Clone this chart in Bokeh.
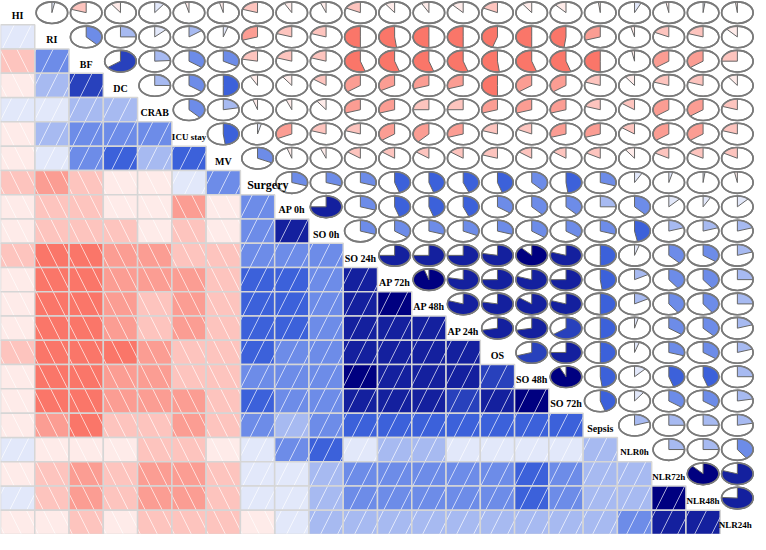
import numpy as np
from bokeh.plotting import figure
from bokeh.models import Range1d, ColumnDataSource
from bokeh.embed import file_html
from bokeh.resources import INLINE
from bokeh.core.properties import value

labels = ["HI", "RI", "BF", "DC", "CRAB", "ICU stay", "MV", "Surgery", "AP 0h", "SO 0h",
          "SO 24h", "AP 72h", "AP 48h", "AP 24h", "OS", "SO 48h", "SO 72h", "Sepsis",
          "NLR0h", "NLR72h", "NLR48h", "NLR24h"]

# upper-triangle correlations, row by row (columns to the right of the diagonal)
r_hi = [0.03, -0.2, -0.1, 0.1, -0.04, -0.04, -0.2, -0.08, -0.06, -0.18, -0.1, -0.08, -0.12,
        -0.18, -0.1, -0.12, -0.02, 0.07, -0.03, 0.02, -0.02]
r_ri = [0.38, 0.25, 0.13, 0.15, 0.05, -0.3, -0.2, -0.2, -0.5, -0.52, -0.5, -0.5, -0.45,
        -0.5, -0.48, -0.3, -0.04, -0.18, -0.2, -0.12]
r_bf = [0.65, 0.24, 0.35, 0.33, -0.22, -0.2, -0.2, -0.55, -0.55, -0.55, -0.55, -0.52,
        -0.55, -0.55, -0.5, -0.03, -0.35, -0.35, -0.25]
r_dc = [0.25, 0.35, 0.5, -0.08, -0.1, -0.15, -0.35, -0.33, -0.3, -0.3, -0.5, -0.35, -0.35,
        -0.2, -0.1, -0.2, -0.2, -0.1]
r_crab = [0.38, 0.22, -0.05, -0.06, -0.1, -0.3, -0.3, -0.25, -0.25, -0.3, -0.3, -0.3,
          -0.2, -0.15, -0.35, -0.35, -0.2]
r_icu = [0.48, 0.04, -0.32, -0.2, -0.2, -0.35, -0.38, -0.3, -0.2, -0.18, -0.3, -0.3,
         -0.15, -0.35, -0.35, -0.2]
r_mv = [0.32, -0.05, -0.06, -0.15, -0.15, -0.15, -0.15, -0.2, -0.15, -0.15, -0.17, -0.1,
        -0.17, -0.17, -0.17]
r_surgery = [0.3, 0.3, 0.3, 0.45, 0.45, 0.44, 0.45, 0.38, 0.48, 0.3, 0.08, 0.04, 0.02, -0.03]
r_ap0 = [0.75, 0.3, 0.45, 0.45, 0.44, 0.35, 0.38, 0.38, 0.25, 0.38, 0.12, 0.08, 0.12]
r_so0 = [0.3, 0.35, 0.3, 0.32, 0.3, 0.35, 0.35, 0.3, 0.47, 0.2, 0.2, 0.2]
r_so24 = [0.75, 0.75, 0.75, 0.78, 0.88, 0.8, 0.5, 0.05, 0.38, 0.35, 0.2]
r_ap72 = [0.95, 0.78, 0.75, 0.8, 0.75, 0.48, 0.17, 0.4, 0.4, 0.25]
r_ap48 = [0.8, 0.78, 0.85, 0.8, 0.5, 0.17, 0.4, 0.4, 0.25]
r_ap24 = [0.72, 0.72, 0.65, 0.5, 0.04, 0.35, 0.38, 0.2]
r_os = [0.7, 0.75, 0.5, 0.05, 0.3, 0.35, 0.2]
r_so48 = [0.93, 0.48, 0.12, 0.45, 0.45, 0.25]
r_so72 = [0.45, 0.1, 0.35, 0.35, 0.22]
r_sepsis = [0.2, 0.25, 0.25, 0.22]
r_nlr0 = [0.25, 0.25, 0.4]
r_nlr72 = [0.88, 0.8]
r_nlr48 = [0.76]

upper = [r_hi, r_ri, r_bf, r_dc, r_crab, r_icu, r_mv, r_surgery, r_ap0, r_so0, r_so24,
         r_ap72, r_ap48, r_ap24, r_os, r_so48, r_so72, r_sepsis, r_nlr0, r_nlr72, r_nlr48]

n = len(labels)
C = np.eye(n)
for i, row in enumerate(upper):
    for k, v in enumerate(row):
        j = i + 1 + k
        C[i, j] = v
        C[j, i] = v

# corrgram palette: red - salmon - white - royalblue - navy, 14 bins
anchors = np.array([(255, 0, 0), (250, 128, 114), (255, 255, 255), (65, 105, 225), (0, 0, 128)], float)
NCOL = 14
palette = []
for k in range(NCOL):
    t = k / (NCOL - 1) * (len(anchors) - 1)
    s = min(int(t), len(anchors) - 2)
    f = t - s
    c = anchors[s] * (1 - f) + anchors[s + 1] * f
    palette.append("#%02x%02x%02x" % tuple(int(round(v)) for v in c))


def col_of(r):
    idx = int(np.ceil((r + 1) / (2.0 / NCOL))) - 1
    return palette[max(0, min(NCOL - 1, idx))]


p = figure(width=754, height=534, output_backend="svg", toolbar_location=None,
           x_range=Range1d(0, n), y_range=Range1d(n, 0), min_border=0,
           background_fill_color="white", border_fill_color="white")
p.axis.visible = False
p.grid.visible = False
p.outline_line_color = None

# lower triangle: shaded cells with hatching
pos = dict(x=[], y=[], c=[])
neg = dict(x=[], y=[], c=[])
for i in range(n):
    for j in range(i):
        d = pos if C[i, j] >= 0 else neg
        d["x"].append(j + 0.5)
        d["y"].append(i + 0.5)
        d["c"].append(col_of(C[i, j]))
p.rect("x", "y", width=1, height=1, source=ColumnDataSource(pos), fill_color="c",
       line_color="#d6d6d6", line_width=1.5, hatch_pattern="/", hatch_color="white",
       hatch_alpha=0.65, hatch_scale=34, hatch_weight=1.0)
p.rect("x", "y", width=1, height=1, source=ColumnDataSource(neg), fill_color="c",
       line_color="#d6d6d6", line_width=1.5, hatch_pattern="\\", hatch_color="white",
       hatch_alpha=0.65, hatch_scale=34, hatch_weight=1.0)

# upper triangle: pies
rx, ry = 0.46, 0.445
ex, ey, xs, ys, pc = [], [], [], [], []
for i in range(n):
    for j in range(i + 1, n):
        r = C[i, j]
        cx, cy = j + 0.5, i + 0.5
        ex.append(cx)
        ey.append(cy)
        m = max(2, int(round(120 * abs(r))) + 1)
        ang = np.linspace(np.pi / 2, np.pi / 2 - 2 * np.pi * r, m)
        px = list(cx + rx * np.cos(ang)) + [cx]
        py = list(cy - ry * np.sin(ang)) + [cy]
        xs.append(px)
        ys.append(py)
        pc.append(col_of(r))
p.ellipse(ex, ey, width=2 * rx, height=2 * ry, fill_color="white",
          line_color="#7a7a7a", line_width=1.6)
p.patches(xs, ys, fill_color=pc, line_color="#666666", line_width=1)
p.ellipse(ex, ey, width=2 * rx, height=2 * ry, fill_color=None,
          line_color="#7a7a7a", line_width=1.6)

# diagonal labels
lx, ly, lt, ls = [], [], [], []
for k, lab in enumerate(labels):
    off = 0.3 if lab == "Surgery" else (-0.06 if lab == "NLR24h" else 0.0)
    lx.append(k + 0.5 + off)
    ly.append(k + 0.62)
    lt.append(lab)
    if lab == "Surgery":
        ls.append("12px")
    elif lab == "ICU stay" or lab.startswith("NLR"):
        ls.append("9px")
    else:
        ls.append("10px")
p.text(x=lx, y=ly, text=lt, text_font=value("Liberation Serif"), text_font_style="bold",
       text_font_size=ls, text_align="center", text_baseline="middle", text_color="black")

open("out.html", "w").write(file_html(p, INLINE))
